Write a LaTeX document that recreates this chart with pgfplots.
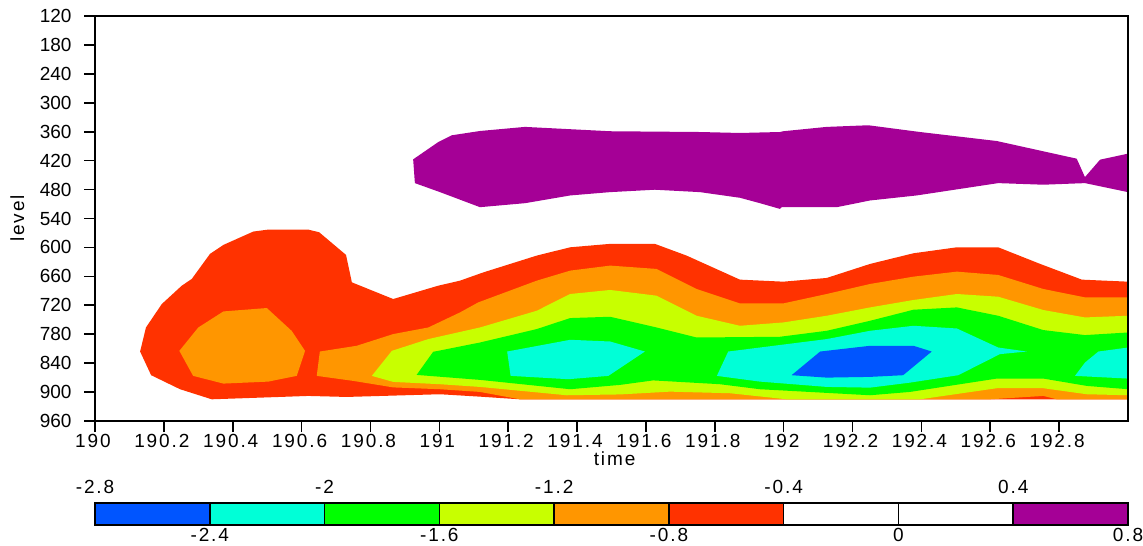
\documentclass[border=0pt]{standalone}
\usepackage{pgfplots}
\pgfplotsset{compat=1.18}
\usepackage{fontspec}
\setmainfont{Liberation Sans}
\newfontfamily\spaced{Liberation Sans}[LetterSpace=10]

\definecolor{cbBlue}{RGB}{0,85,255}
\definecolor{cbCyan}{RGB}{0,255,215}
\definecolor{cbGreen}{RGB}{0,255,0}
\definecolor{cbLime}{RGB}{200,255,0}
\definecolor{cbOrange}{RGB}{255,150,0}
\definecolor{cbRed}{RGB}{255,50,0}
\definecolor{cbPurple}{RGB}{165,0,150}

\begin{document}
\fontsize{19}{22}\selectfont
\begin{tikzpicture}
\path[use as bounding box] (0,0) rectangle (1143pt,546pt);

% contour field
\begin{axis}[
  at={(95pt,125pt)}, anchor=south west,
  scale only axis, width=1033pt, height=405pt,
  xmin=190, xmax=193, ymin=120, ymax=960, y dir=reverse,
  xtick={190,190.2,190.4,190.6,190.8,191,191.2,191.4,191.6,191.8,192,192.2,192.4,192.6,192.8},
  xticklabels={190,190.2,190.4,190.6,190.8,191,191.2,191.4,191.6,191.8,192,192.2,192.4,192.6,192.8},
  ytick={120,180,240,300,360,420,480,540,600,660,720,780,840,900,960},
  yticklabels={120,180,240,300,360,420,480,540,600,660,720,780,840,900,960},
  tick align=outside, major tick length=11pt,
  xtick pos=bottom, ytick pos=left,
  every tick/.style={black, line width=1.6pt},
  axis line style={line width=2pt},
  yticklabel style={font=\fontsize{19}{22}\selectfont, xshift=-6pt},
  xticklabel style={font=\spaced\fontsize{19}{22}\selectfont, xshift=-2pt, yshift=4pt},
  xlabel={time}, ylabel={level},
  xlabel style={font=\spaced\fontsize{19}{22}\selectfont,
    at={(axis description cs:0.503,0)}, anchor=north, yshift=-24pt},
  ylabel style={font=\spaced\fontsize{19}{22}\selectfont,
    at={(axis description cs:-0.062,0.5)}, anchor=south},
  axis on top,
]
\addplot[draw=none, fill=cbPurple] coordinates {
 (190.924,417.3) (190.997,381.4) (191.036,367.4) (191.118,358.5) (191.249,350)
 (191.496,359) (191.757,360.6) (191.873,362.6) (191.989,360.6) (191.999,359)
 (192.125,350) (192.246,346.6) (192.396,360.6) (192.619,379.3) (192.851,415.9)
 (192.875,454.1) (192.919,417.9) (193.0,405.5) (193.0,485.3) (192.875,466.6)
 (192.754,469.9) (192.623,466.6) (192.386,492.2) (192.251,502.6) (192.154,516.5)
 (191.994,516.5) (191.989,520) (191.931,508.2) (191.873,497) (191.757,485.3)
 (191.626,480.3) (191.496,485.3) (191.38,492.2) (191.249,508.2) (191.118,516.5)
 (191.002,485.3) (190.929,466.6)};
\addplot[draw=none, fill=cbRed] coordinates {
 (190.131,815.9) (190.148,766) (190.194,717.4) (190.252,679.3) (190.281,665.4)
 (190.334,613.4) (190.373,594.7) (190.46,567) (190.503,563) (190.619,563)
 (190.651,568.5) (190.729,615.5) (190.746,672.4) (190.866,707) (190.997,679.3)
 (191.06,668.9) (191.128,651.7) (191.283,616.9) (191.38,599.7) (191.496,592.6)
 (191.626,592.6) (191.718,616.9) (191.873,666.8) (191.999,671) (192.125,663.3)
 (192.251,634.2) (192.377,612.1) (192.503,599.7) (192.623,599.7) (192.745,634.2)
 (192.866,666.8) (193,671) (193,915) (191.234,915) (191.118,909.5) (191.002,904.5)
 (190.731,910.1) (190.619,908) (190.537,910.1) (190.339,915) (190.247,894.1)
 (190.163,865)};
\addplot[draw=none, fill=cbOrange] coordinates {
 (190.373,732.7) (190.499,725.7) (190.571,772.9) (190.61,814.5) (190.586,866.4)
 (190.503,878.3) (190.373,882.4) (190.285,866.4) (190.245,814.5) (190.3,766)};
\addplot[draw=none, fill=cbOrange] coordinates {
 (190.653,815.9) (190.76,804) (190.866,779.7) (190.968,766) (191.06,734.8)
 (191.113,714) (191.283,668.9) (191.38,648.1) (191.496,637.7) (191.631,644.6)
 (191.747,686.2) (191.873,716.1) (191.999,716.1) (192.125,696.6) (192.251,675.8)
 (192.377,660.6) (192.503,650.2) (192.623,657.1) (192.754,686.2) (192.875,703.6)
 (193,703.6) (193,915) (192.793,915) (192.754,908) (192.599,915) (191.234,915)
 (191.118,899.7) (191.002,894.1) (190.866,890.3) (190.75,876.8) (190.644,866.4)};
\addplot[draw=none, fill=cbLime] coordinates {
 (190.804,866.4) (190.862,814.5) (190.968,790.1) (191.118,766) (191.283,731.3)
 (191.38,696.6) (191.496,688.2) (191.631,700.1) (191.747,741.7) (191.873,762.5)
 (191.999,755.6) (192.125,741.7) (192.251,724.4) (192.377,709) (192.503,696.6)
 (192.623,702.2) (192.754,729.8) (192.875,745.2) (193,741.7) (193,906.6)
 (192.88,904.5) (192.754,892) (192.619,892) (192.396,915) (192.009,915)
 (191.844,902.4) (191.67,899.1) (191.525,904.9) (191.37,906.6) (191.118,889.3)
 (191.002,883.7) (190.866,878.9)};
\addplot[draw=none, fill=cbGreen] coordinates {
 (190.934,864.4) (190.982,816.5) (191.118,797.2) (191.283,769.3) (191.38,746.5)
 (191.496,743.8) (191.631,766) (191.747,786.8) (191.989,785.3) (192.125,772.9)
 (192.251,752.1) (192.377,729.2) (192.503,724.4) (192.623,741.7) (192.754,771.4)
 (192.875,781.8) (193,776.4) (193,894.1) (192.88,887.2) (192.754,872) (192.619,872)
 (192.367,899.7) (192.251,906.6) (191.931,894.1) (191.815,883.7) (191.621,875.8)
 (191.525,885.1) (191.38,894.1) (191.118,874.7)};
\addplot[draw=none, fill=cbCyan] coordinates {
 (191.197,815.9) (191.38,791.6) (191.496,795.1) (191.597,815.9) (191.491,866.4)
 (191.375,873.3) (191.207,866.4)};
\addplot[draw=none, fill=cbCyan] coordinates {
 (191.806,866.4) (191.839,815.9) (191.931,807.6) (192.125,790.1) (192.251,772.9)
 (192.377,762.5) (192.503,768.1) (192.623,807.6) (192.706,815.9) (192.628,821.3)
 (192.507,865) (192.367,880.4) (192.251,890.8) (192.125,889.3) (191.931,878.3)};
\addplot[draw=none, fill=cbCyan] coordinates {
 (192.846,866.4) (192.875,838.8) (192.914,815.9) (193,807.6) (193,872)};
\addplot[draw=none, fill=cbBlue] coordinates {
 (192.023,865) (192.106,815.9) (192.251,804) (192.377,804) (192.43,815.9)
 (192.347,865) (192.251,868.5) (192.125,870)};
\end{axis}

% colour bar
\begin{axis}[
  at={(95pt,21pt)}, anchor=south west,
  scale only axis, width=1033pt, height=22pt,
  xmin=-2.8, xmax=0.8, ymin=0, ymax=1,
  ytick=\empty,
  xtick={-2.4,-1.6,-0.8,0,0.8},
  xticklabels={-2.4,-1.6,-0.8,0,0.8},
  major tick length=0pt,
  axis line style={line width=2pt},
  xticklabel style={font=\spaced\fontsize{19}{22}\selectfont, yshift=3pt},
  axis on top,
  clip=false,
]
\addplot[fill=cbBlue, draw=black, line width=1.5pt] coordinates {(-2.8,0) (-2.4,0) (-2.4,1) (-2.8,1)} -- cycle;
\addplot[fill=cbCyan, draw=black, line width=1.5pt] coordinates {(-2.4,0) (-2.0,0) (-2.0,1) (-2.4,1)} -- cycle;
\addplot[fill=cbGreen, draw=black, line width=1.5pt] coordinates {(-2.0,0) (-1.6,0) (-1.6,1) (-2.0,1)} -- cycle;
\addplot[fill=cbLime, draw=black, line width=1.5pt] coordinates {(-1.6,0) (-1.2,0) (-1.2,1) (-1.6,1)} -- cycle;
\addplot[fill=cbOrange, draw=black, line width=1.5pt] coordinates {(-1.2,0) (-0.8,0) (-0.8,1) (-1.2,1)} -- cycle;
\addplot[fill=cbRed, draw=black, line width=1.5pt] coordinates {(-0.8,0) (-0.4,0) (-0.4,1) (-0.8,1)} -- cycle;
\addplot[fill=white, draw=black, line width=1.5pt] coordinates {(-0.4,0) (0,0) (0,1) (-0.4,1)} -- cycle;
\addplot[fill=white, draw=black, line width=1.5pt] coordinates {(0,0) (0.4,0) (0.4,1) (0,1)} -- cycle;
\addplot[fill=cbPurple, draw=black, line width=1.5pt] coordinates {(0.4,0) (0.8,0) (0.8,1) (0.4,1)} -- cycle;
\node[above=3pt, font=\spaced\fontsize{19}{22}\selectfont] at (axis cs:-2.8,1) {-2.8};
\node[above=3pt, font=\spaced\fontsize{19}{22}\selectfont] at (axis cs:-2.0,1) {-2};
\node[above=3pt, font=\spaced\fontsize{19}{22}\selectfont] at (axis cs:-1.2,1) {-1.2};
\node[above=3pt, font=\spaced\fontsize{19}{22}\selectfont] at (axis cs:-0.4,1) {-0.4};
\node[above=3pt, font=\spaced\fontsize{19}{22}\selectfont] at (axis cs:0.4,1) {0.4};
\end{axis}
\end{tikzpicture}
\end{document}
